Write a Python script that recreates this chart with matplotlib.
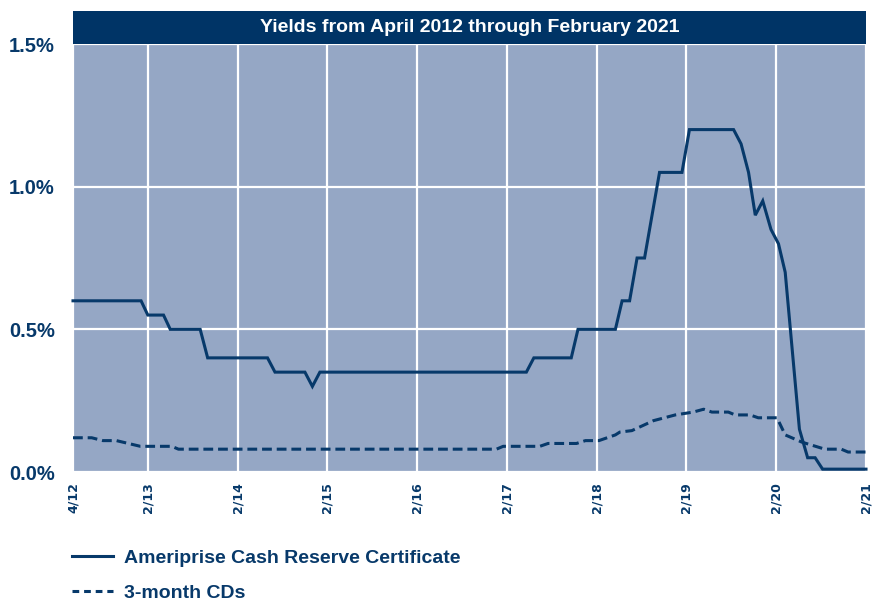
import matplotlib
matplotlib.use("Agg")
import matplotlib.pyplot as plt
from matplotlib.patches import Rectangle

# ---- data (x = months since April 2012, y = yield in %) ----
cert_months = [0, 9.1, 10, 12.1, 13, 17, 18, 26, 27, 31, 32, 33, 60.6, 61.6,
               66.6, 67.5, 72.5, 73.4, 74.4, 75.4, 76.4, 78.4, 81.4, 82.4,
               88.3, 89.3, 90.3, 91.2, 92.2, 93.3, 94.3, 95.2, 97.1, 98.2,
               99.2, 100.2, 106]
cert_yield = [0.60, 0.60, 0.55, 0.55, 0.50, 0.50, 0.40, 0.40, 0.35, 0.35, 0.30,
              0.35, 0.35, 0.40, 0.40, 0.50, 0.50, 0.60, 0.60, 0.75, 0.75, 1.05,
              1.05, 1.20, 1.20, 1.15, 1.05, 0.90, 0.95, 0.85, 0.80, 0.70, 0.15,
              0.05, 0.05, 0.01, 0.01]

cd_months = [0, 2.5, 4, 5.8, 9, 13.2, 14.1, 56.6, 57.5, 62.4, 63.5, 67.3, 68.5,
             70.3, 72.5, 73.1, 74.7, 77.6, 80.5, 82.9, 84.3, 85.4, 87.6, 88.5,
             90.5, 91.6, 94.1, 95.2, 97.4, 100.5, 102.7, 103.6, 106]
cd_yield = [0.12, 0.12, 0.11, 0.11, 0.09, 0.09, 0.08, 0.08, 0.09, 0.09, 0.10,
            0.10, 0.11, 0.11, 0.13, 0.14, 0.145, 0.18, 0.20, 0.21, 0.22, 0.21,
            0.21, 0.20, 0.20, 0.19, 0.19, 0.13, 0.105, 0.08, 0.08, 0.07, 0.07]

tick_months = [0, 10, 22, 34, 46, 58, 70, 82, 94, 106]
tick_labels = ["4/12", "2/13", "2/14", "2/15", "2/16", "2/17", "2/18", "2/19",
               "2/20", "2/21"]
y_ticks = [0.0, 0.5, 1.0, 1.5]
y_labels = ["0.0%", "0.5%", "1.0%", "1.5%"]

title = "Yields from April 2012 through February 2021"
series_names = ["Ameriprise Cash Reserve Certificate", "3-month CDs"]

NAVY = "#07396A"
BAND = "#003466"
BG = "#95A7C5"
SANS = ["Liberation Sans", "DejaVu Sans"]

fig = plt.figure(figsize=(8.74, 6.0), dpi=100)
W, H = 874, 600
left, right, top, bottom = 73, 866, 44, 472
ax = fig.add_axes([left / W, 1 - bottom / H, (right - left) / W, (bottom - top) / H])
ax.set_facecolor(BG)
for s in ax.spines.values():
    s.set_visible(False)

ax.set_xlim(0, 106)
ax.set_ylim(0, 1.5)
ax.set_xticks(tick_months)
ax.set_xticklabels(tick_labels, rotation=90, fontfamily="DejaVu Sans",
                   fontweight="bold", fontsize=9, color=NAVY, va="top")
ax.set_yticks(y_ticks)
ax.set_yticklabels(y_labels, fontfamily=SANS, fontweight="bold", fontsize=14.5, color=NAVY)
ax.tick_params(axis="x", length=0, pad=7.5)
ax.tick_params(axis="y", length=0, pad=13)
ax.grid(True, color="white", linewidth=1.6)
ax.set_axisbelow(True)

l1, = ax.plot(cert_months, cert_yield, color=NAVY, linewidth=2.2,
              solid_joinstyle="miter", label=series_names[0])
l2, = ax.plot(cd_months, cd_yield, color=NAVY, linewidth=2.2,
              linestyle=(0, (3.2, 1.6)), label=series_names[1])
for l in (l1, l2):
    l.set_clip_on(False)

# title band
band_h = 33 / (bottom - top)
ax.add_patch(Rectangle((0, 1.0), 1.0, band_h, transform=ax.transAxes,
                       facecolor=BAND, edgecolor="none", clip_on=False, zorder=5))
ax.text(0.5, 1.0 + band_h / 2, title, transform=ax.transAxes, ha="center",
        va="center", color="white", fontsize=14, fontweight="bold",
        fontfamily=SANS, zorder=6)

leg = fig.legend(handles=[l1, l2], loc="upper left",
                 bbox_to_anchor=(72 / W, 1 - 549 / H), frameon=False,
                 prop={"family": SANS, "weight": "bold", "size": 14},
                 handlelength=2.1, handletextpad=0.56, labelspacing=0.9,
                 borderaxespad=0, borderpad=0)
for t in leg.get_texts():
    t.set_color(NAVY)
leg.get_lines()[1].set_linestyle((0, (2.2, 1.6)))

fig.savefig("out.png", dpi=100)
